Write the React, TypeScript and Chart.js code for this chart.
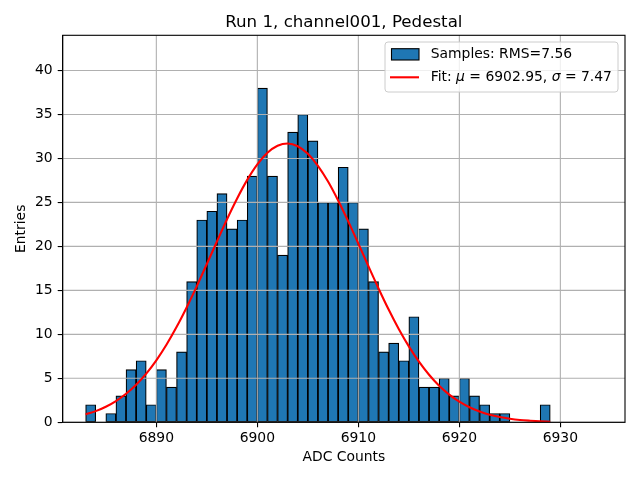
import { useEffect, useRef } from 'react';
import { Chart, registerables } from 'chart.js';

Chart.register(...registerables);

// histogram bins (left edge of each 1-count-wide bin) and entries per bin
const binLeft = [
  6883, 6884, 6885, 6886, 6887, 6888, 6889, 6890, 6891, 6892,
  6893, 6894, 6895, 6896, 6897, 6898, 6899, 6900, 6901, 6902,
  6903, 6904, 6905, 6906, 6907, 6908, 6909, 6910, 6911, 6912,
  6913, 6914, 6915, 6916, 6917, 6918, 6919, 6920, 6921, 6922,
  6923, 6924, 6925, 6926, 6927, 6928,
];
const entries = [
  2, 0, 1, 3, 6, 7, 2, 6, 4, 8,
  16, 23, 24, 26, 22, 23, 28, 38, 28, 19,
  33, 35, 32, 25, 25, 29, 25, 22, 16, 8,
  9, 7, 12, 4, 4, 5, 3, 5, 3, 2,
  1, 1, 0, 0, 0, 2,
];

// gaussian fit curve
const fitX = [
  6883, 6884, 6885, 6886, 6887, 6888, 6889, 6890, 6891, 6892,
  6893, 6894, 6895, 6896, 6897, 6898, 6899, 6900, 6901, 6902,
  6903, 6904, 6905, 6906, 6907, 6908, 6909, 6910, 6911, 6912,
  6913, 6914, 6915, 6916, 6917, 6918, 6919, 6920, 6921, 6922,
  6923, 6924, 6925, 6926, 6927, 6928, 6929,
];
const fitY = [
  0.9, 1.27, 1.77, 2.42, 3.24, 4.28, 5.54, 7.05, 8.82, 10.83,
  13.06, 15.46, 18.0, 20.56, 23.09, 25.45, 27.56, 29.32, 30.64, 31.44,
  31.7, 31.39, 30.53, 29.16, 27.37, 25.22, 22.84, 20.31, 17.74, 15.22,
  12.82, 10.61, 8.63, 6.89, 5.41, 4.16, 3.15, 2.34, 1.71, 1.23,
  0.86, 0.6, 0.41, 0.27, 0.18, 0.11, 0.07,
];

const xTicks = [6890, 6900, 6910, 6920, 6930];
const yTicks = [0, 5, 10, 15, 20, 25, 30, 35, 40];

const title = 'Run 1, channel001, Pedestal';
const xLabel = 'ADC Counts';
const yLabel = 'Entries';
const sampleLabel = 'Samples: RMS=7.56';
// legend text for the fit, split so the greek letters can be italic
const fitLabel = [
  { t: 'Fit: ', i: false },
  { t: 'μ', i: true },
  { t: ' = 6902.95, ', i: false },
  { t: 'σ', i: true },
  { t: ' = 7.47', i: false },
];

const FONT = '"DejaVu Sans", sans-serif';
const BLUE = '#1f77b4';

// grid above the bars but under the fit line, plus frame, title and legend
const mplPlugin = {
  id: 'mpl',
  afterDatasetDraw(chart: any, args: any) {
    if (args.meta.type !== 'bar') return;
    const { ctx, chartArea: a, scales } = chart;
    ctx.save();
    ctx.strokeStyle = '#b0b0b0';
    ctx.lineWidth = 1.1;
    ctx.beginPath();
    for (const t of scales.x.ticks) {
      const px = scales.x.getPixelForValue(t.value);
      ctx.moveTo(px, a.top);
      ctx.lineTo(px, a.bottom);
    }
    for (const t of scales.y.ticks) {
      const py = scales.y.getPixelForValue(t.value);
      ctx.moveTo(a.left, py);
      ctx.lineTo(a.right, py);
    }
    ctx.stroke();
    ctx.restore();
  },
  afterDraw(chart: any) {
    const { ctx, chartArea: a } = chart;
    ctx.save();
    ctx.strokeStyle = '#000';
    ctx.lineWidth = 1.1;
    ctx.strokeRect(a.left, a.top, a.right - a.left, a.bottom - a.top);

    ctx.fillStyle = '#000';
    ctx.font = `16.67px ${FONT}`;
    ctx.textAlign = 'center';
    ctx.textBaseline = 'alphabetic';
    ctx.fillText(title, (a.left + a.right) / 2, 27.3);

    // legend box
    const lx = 385, ly = 42, lw = 233, lh = 50, r = 3;
    ctx.beginPath();
    ctx.roundRect(lx, ly, lw, lh, r);
    ctx.fillStyle = 'rgba(255,255,255,0.8)';
    ctx.fill();
    ctx.strokeStyle = '#cccccc';
    ctx.lineWidth = 1;
    ctx.stroke();

    ctx.fillStyle = BLUE;
    ctx.fillRect(391.5, 48.7, 27.5, 11.3);
    ctx.strokeStyle = '#000';
    ctx.lineWidth = 1.1;
    ctx.strokeRect(391.5, 48.7, 27.5, 11.3);

    ctx.strokeStyle = '#ff0000';
    ctx.lineWidth = 2.1;
    ctx.beginPath();
    ctx.moveTo(390, 77.3);
    ctx.lineTo(419, 77.3);
    ctx.stroke();

    ctx.fillStyle = '#000';
    ctx.textAlign = 'left';
    ctx.textBaseline = 'middle';
    ctx.font = `13.9px ${FONT}`;
    ctx.fillText(sampleLabel, 430.7, 54.6);
    let x = 430.7;
    for (const part of fitLabel) {
      ctx.font = `${part.i ? 'italic ' : ''}13.9px ${FONT}`;
      ctx.fillText(part.t, x, 77.8);
      x += ctx.measureText(part.t).width;
    }
    ctx.restore();
  },
};

export default function App() {
  const canvasRef = useRef<HTMLCanvasElement>(null);

  useEffect(() => {
    if (!canvasRef.current) return;
    const tickFont = { family: FONT, size: 13.9 };

    const chart = new Chart(canvasRef.current, {
      type: 'bar',
      data: {
        datasets: [
          {
            type: 'bar',
            label: sampleLabel,
            data: binLeft.map((b, i) => ({ x: b + 0.5, y: entries[i] })),
            backgroundColor: BLUE,
            borderColor: '#000',
            borderWidth: 1.2,
            borderSkipped: false,
            barPercentage: 1,
            categoryPercentage: 1,
            order: 2,
          },
          {
            type: 'line',
            label: 'Fit',
            data: fitX.map((v, i) => ({ x: v, y: fitY[i] })),
            borderColor: '#ff0000',
            borderWidth: 2.1,
            pointRadius: 0,
            cubicInterpolationMode: 'monotone',
            order: 1,
          },
        ],
      } as any,
      options: {
        responsive: false,
        animation: false,
        layout: { padding: { top: 35.3, right: 15, left: 0, bottom: 0 } },
        plugins: {
          legend: { display: false },
          title: { display: false },
          tooltip: { enabled: false },
        },
        scales: {
          x: {
            type: 'linear',
            min: 6880.73,
            max: 6936.4,
            offset: false,
            afterBuildTicks: (s: any) => {
              s.ticks = xTicks.map((v) => ({ value: v }));
            },
            afterFit: (s: any) => {
              s.height = 57.7;
            },
            ticks: {
              autoSkip: false,
              maxRotation: 0,
              padding: 3,
              color: '#000',
              font: tickFont,
              callback: (v: any) => String(v),
            },
            grid: { offset: false, drawOnChartArea: false, color: '#000', tickLength: 5, lineWidth: 1.1 },
            border: { color: '#000', width: 1.1 },
            title: {
              display: true,
              text: xLabel,
              color: '#000',
              font: tickFont,
              padding: { top: 0, bottom: 14.7 },
            },
          },
          y: {
            min: 0,
            max: 44,
            afterBuildTicks: (s: any) => {
              s.ticks = yTicks.map((v) => ({ value: v }));
            },
            afterFit: (s: any) => {
              s.width = 62.7;
            },
            ticks: {
              padding: 5,
              color: '#000',
              font: tickFont,
              callback: (v: any) => String(v),
            },
            grid: { drawOnChartArea: false, color: '#000', tickLength: 5, lineWidth: 1.1 },
            border: { color: '#000', width: 1.1 },
            title: {
              display: true,
              text: yLabel,
              color: '#000',
              font: tickFont,
              padding: { top: 13, bottom: 0 },
            },
          },
        },
      } as any,
      plugins: [mplPlugin],
    });

    return () => chart.destroy();
  }, []);

  return (
    <div style={{ position: 'fixed', left: 0, top: 0, width: 640, height: 480, background: '#fff' }}>
      <canvas ref={canvasRef} width={640} height={480} style={{ display: 'block' }} />
    </div>
  );
}
